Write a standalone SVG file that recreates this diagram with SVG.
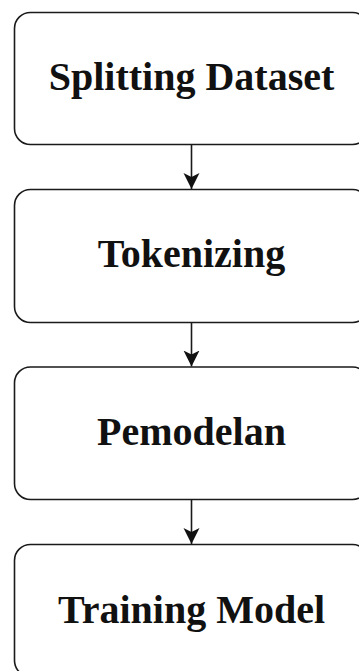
<svg xmlns="http://www.w3.org/2000/svg" width="359" height="671" viewBox="0 0 359 671">
  <style>
    .box { fill: #ffffff; stroke: #1a1a1a; stroke-width: 1.6; }
    .label { font-family: "Liberation Serif", "Times New Roman", serif; font-weight: bold; font-size: 40px; fill: #111111; text-anchor: middle; }
    .edge { stroke: #1a1a1a; stroke-width: 1.6; fill: none; }
  </style>
  <defs>
    <marker id="arrow" markerUnits="userSpaceOnUse" markerWidth="18" markerHeight="20" refX="16" refY="8" orient="auto">
      <path d="M0,0 L16,8 L0,16 L4,8 Z" fill="#111111"/>
    </marker>
  </defs>
  <rect width="359" height="671" fill="#ffffff"/>

  <g id="node-splitting">
    <rect class="box" x="14.5" y="12.5" width="354" height="132" rx="16" ry="16"/>
    <text class="label" x="191.5" y="90">Splitting Dataset</text>
  </g>
  <g id="node-tokenizing">
    <rect class="box" x="14.5" y="189.5" width="354" height="133" rx="16" ry="16"/>
    <text class="label" x="191.5" y="267">Tokenizing</text>
  </g>
  <g id="node-pemodelan">
    <rect class="box" x="14.5" y="367" width="354" height="132.5" rx="16" ry="16"/>
    <text class="label" x="191.5" y="445">Pemodelan</text>
  </g>
  <g id="node-training">
    <rect class="box" x="14.5" y="544.5" width="354" height="132" rx="16" ry="16"/>
    <text class="label" x="191.5" y="622.5">Training Model</text>
  </g>

  <g id="connectors">
    <line class="edge" x1="191.5" y1="144.5" x2="191.5" y2="189" marker-end="url(#arrow)"/>
    <line class="edge" x1="191.5" y1="322.5" x2="191.5" y2="366.5" marker-end="url(#arrow)"/>
    <line class="edge" x1="191.5" y1="499.5" x2="191.5" y2="544" marker-end="url(#arrow)"/>
  </g>
</svg>
